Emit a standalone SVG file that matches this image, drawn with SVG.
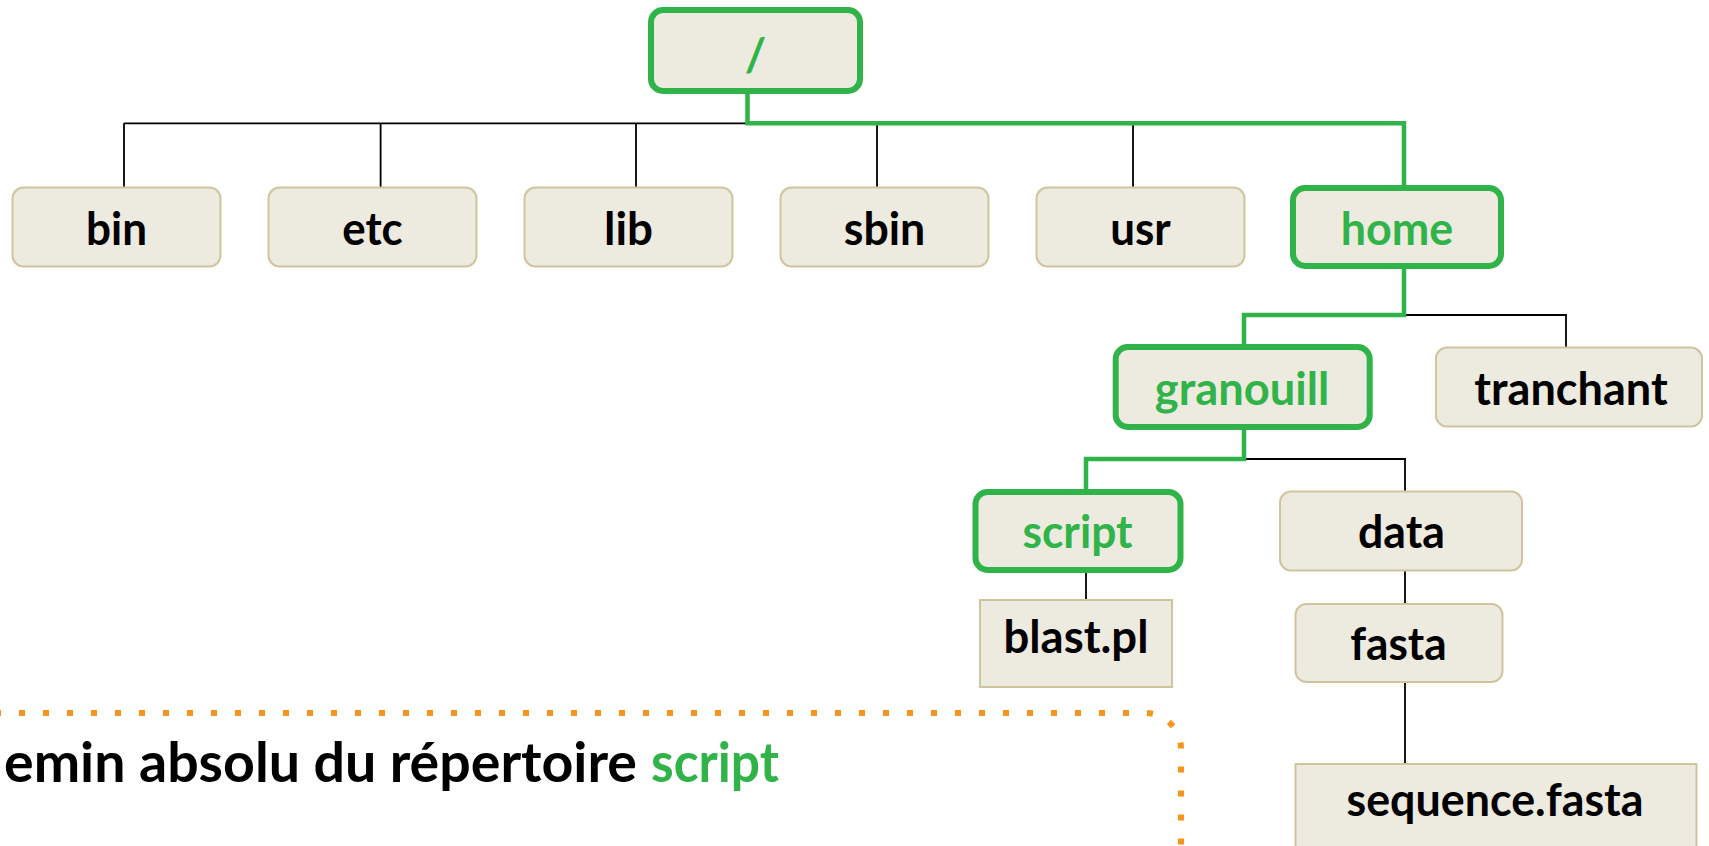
<svg xmlns="http://www.w3.org/2000/svg" width="1709" height="846" viewBox="0 0 1709 846">
  <style>
    .box { fill: #EDEADF; stroke: #D0C49E; stroke-width: 2; }
    .sel { fill: #EDEADF; stroke: #30B44A; stroke-width: 6; }
    .lbl { font-family: Lato, "Liberation Sans", sans-serif; font-weight: bold; font-size: 46px; fill: #000; text-anchor: middle; }
    .lbl.g { fill: #30B44A; }
    .blk { fill: none; stroke: #000; stroke-width: 1.8; }
    .grn { fill: none; stroke: #30B44A; stroke-width: 4.5; stroke-linecap: square; }
    .cap { font-family: Lato, "Liberation Sans", sans-serif; font-weight: bold; font-size: 55px; }
  </style>
  <rect width="1709" height="846" fill="#FFFFFF"/>

  <g id="connectors">
    <path class="blk" d="M124 123.3 H747 M124 123.3 V187 M380.6 123.3 V187 M636 123.3 V187 M877 123.3 V187 M1133 123.3 V187"/>
    <path class="blk" d="M1404 315 H1566 V347"/>
    <path class="blk" d="M1244 459 H1405 V491"/>
    <path class="blk" d="M1086 573 V600"/>
    <path class="blk" d="M1405 571 V604"/>
    <path class="blk" d="M1405 683 V764"/>
    <path class="grn" d="M747.5 93 V123.3 H1404 V185"/>
    <path class="grn" d="M1404 269 V315 H1244 V344"/>
    <path class="grn" d="M1244 430 V459 H1086 V489"/>
  </g>

  <g id="node-root">
    <rect class="sel" x="651" y="10" width="209" height="81" rx="12"/>
    <text class="lbl g" x="755.5" y="71" font-size="50">/</text>
  </g>
  <g id="node-bin">
    <rect class="box" x="12.5" y="187.5" width="208" height="79" rx="11"/>
    <text class="lbl" x="116.5" y="245" textLength="61" lengthAdjust="spacingAndGlyphs">bin</text>
  </g>
  <g id="node-etc">
    <rect class="box" x="268.5" y="187.5" width="208" height="79" rx="11"/>
    <text class="lbl" x="372.5" y="245" textLength="60.5" lengthAdjust="spacingAndGlyphs">etc</text>
  </g>
  <g id="node-lib">
    <rect class="box" x="524.5" y="187.5" width="208" height="79" rx="11"/>
    <text class="lbl" x="628.5" y="245" textLength="49" lengthAdjust="spacingAndGlyphs">lib</text>
  </g>
  <g id="node-sbin">
    <rect class="box" x="780.5" y="187.5" width="208" height="79" rx="11"/>
    <text class="lbl" x="884.5" y="245" textLength="81.5" lengthAdjust="spacingAndGlyphs">sbin</text>
  </g>
  <g id="node-usr">
    <rect class="box" x="1036.5" y="187.5" width="208" height="79" rx="11"/>
    <text class="lbl" x="1140.5" y="245" textLength="60.5" lengthAdjust="spacingAndGlyphs">usr</text>
  </g>
  <g id="node-home">
    <rect class="sel" x="1293" y="188" width="208" height="78" rx="12"/>
    <text class="lbl g" x="1397" y="245" textLength="112.5" lengthAdjust="spacingAndGlyphs">home</text>
  </g>
  <g id="node-granouill">
    <rect class="sel" x="1115.7" y="347" width="254" height="80" rx="12"/>
    <text class="lbl g" x="1242" y="404.5" textLength="174.5" lengthAdjust="spacingAndGlyphs">granouill</text>
  </g>
  <g id="node-tranchant">
    <rect class="box" x="1436" y="347.5" width="266" height="79" rx="11"/>
    <text class="lbl" x="1571" y="404.5" textLength="193.5" lengthAdjust="spacingAndGlyphs">tranchant</text>
  </g>
  <g id="node-script">
    <rect class="sel" x="975.5" y="492" width="205" height="78" rx="12"/>
    <text class="lbl g" x="1077.5" y="548" textLength="110" lengthAdjust="spacingAndGlyphs">script</text>
  </g>
  <g id="node-data">
    <rect class="box" x="1280" y="491.5" width="242" height="79" rx="11"/>
    <text class="lbl" x="1401.5" y="548" textLength="87" lengthAdjust="spacingAndGlyphs">data</text>
  </g>
  <g id="node-blast">
    <rect class="box" x="980" y="600" width="192" height="87"/>
    <text class="lbl" x="1076" y="653" textLength="145" lengthAdjust="spacingAndGlyphs">blast.pl</text>
  </g>
  <g id="node-fasta">
    <rect class="box" x="1295.5" y="604" width="207" height="78" rx="11"/>
    <text class="lbl" x="1398.5" y="660" textLength="96.5" lengthAdjust="spacingAndGlyphs">fasta</text>
  </g>
  <g id="node-sequence">
    <rect class="box" x="1295.5" y="764" width="401" height="100"/>
    <text class="lbl" x="1495" y="816" textLength="297" lengthAdjust="spacingAndGlyphs">sequence.fasta</text>
  </g>

  <g id="callout">
    <path d="M-101 713 H1145 A36 36 0 0 1 1181 749 V900" fill="none" stroke="#F7941E" stroke-width="6" stroke-dasharray="6 18"/>
    <text class="cap" x="4" y="781.7" fill="#000" textLength="633" lengthAdjust="spacingAndGlyphs">emin absolu du répertoire</text>
    <text class="cap" x="651" y="781.7" fill="#30B44A" textLength="128" lengthAdjust="spacingAndGlyphs">script</text>
  </g>
</svg>
